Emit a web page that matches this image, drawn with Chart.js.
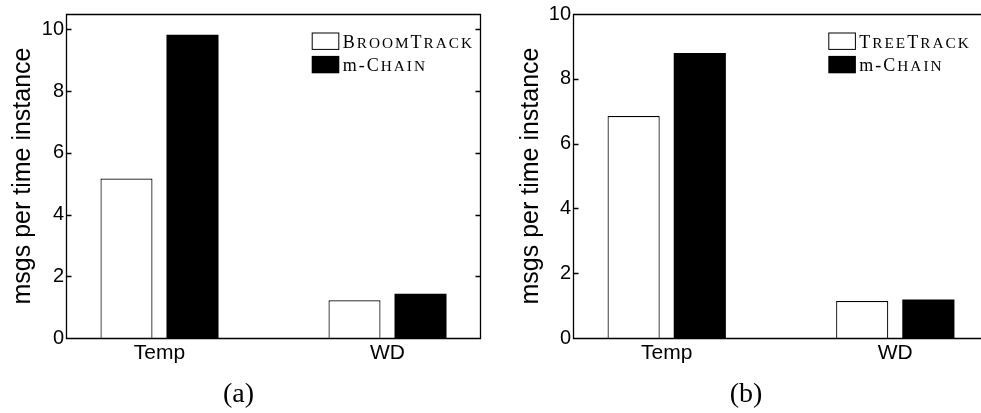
<!DOCTYPE html>
<html>
<head>
<meta charset="utf-8">
<script src="https://cdn.jsdelivr.net/npm/chart.js@4.4.1/dist/chart.umd.min.js"></script>
<style>
  html, body { margin: 0; padding: 0; background: #fff; }
  #wrap { position: relative; width: 981px; height: 413px; overflow: hidden; }
  .panel { position: absolute; top: 0; height: 413px; overflow: hidden; }
  #panelA { left: 0; width: 490px; }
  #panelB { left: 490px; width: 491px; }
</style>
</head>
<body>
<div id="wrap">
  <div class="panel" id="panelA"><canvas id="chartA" width="490" height="413"></canvas></div>
  <div class="panel" id="panelB"><canvas id="chartB" width="500" height="413"></canvas></div>
</div>
<script>
// Datos
const categories = ["Temp", "WD"]
const yTicks = [0, 2, 4, 6, 8, 10]

// (a) BroomTrack vs m-Chain
const broomTrack = [5.17, 1.22]
const mChainA = [9.83, 1.43]

// (b) TreeTrack vs m-Chain
const treeTrack = [6.85, 1.14]
const mChainB = [8.8, 1.19]

const SANS = "'Liberation Sans', Arial, Helvetica, sans-serif"
const SERIF = "'Liberation Serif', 'Times New Roman', serif"

function toPoints(values) {
  return values.map((v, i) => ({ x: i + 1, y: v }))
}

// Caja estilo MATLAB con marcas hacia dentro
const boxPlugin = {
  id: "matlabBox",
  afterDatasetsDraw(chart) {
    const { ctx, chartArea: a } = chart
    const y = chart.scales.y
    const l = Math.round(a.left) + 0.5
    const r = Math.round(a.right) - 0.5
    const t = Math.round(a.top) + 0.5
    const b = Math.round(a.bottom) + 0.5
    ctx.save()
    ctx.strokeStyle = "#000"
    ctx.lineWidth = 1.3
    ctx.beginPath()
    ctx.rect(l, t, r - l, b - t)
    y.ticks.forEach((tick) => {
      const py = Math.round(y.getPixelForValue(tick.value)) + 0.5
      ctx.moveTo(l, py)
      ctx.lineTo(l + 5, py)
      ctx.moveTo(r, py)
      ctx.lineTo(r - 5, py)
    })
    ctx.stroke()
    ctx.restore()
  },
}

// Texto en versalitas (como \textsc de LaTeX)
function drawSmallCaps(ctx, text, x, y, size, spacing) {
  const first = text.search(/[A-Z]/)
  for (let i = 0; i < text.length; i++) {
    let ch = text[i]
    let sz = size
    if (i >= first && ch !== ch.toUpperCase()) {
      ch = ch.toUpperCase()
      sz = size * 0.85
    }
    ctx.font = `${sz}px ${SERIF}`
    ctx.fillText(ch, x, y)
    x += ctx.measureText(ch).width + spacing
  }
}

const legendPlugin = {
  id: "paperLegend",
  afterDraw(chart, args, opts) {
    const { ctx, chartArea: a } = chart
    const x = a.right - opts.offset
    ctx.save()
    ctx.textBaseline = "alphabetic"
    chart.data.datasets.forEach((ds, i) => {
      const by = a.top + opts.top + i * 23.4
      ctx.fillStyle = ds.backgroundColor
      ctx.fillRect(x, by, 27.6, 17.4)
      if (ds.backgroundColor !== "#000") {
        ctx.strokeStyle = "#000"
        ctx.lineWidth = 1
        ctx.strokeRect(x + 0.5, by + 0.5, 26.6, 16.4)
      }
      ctx.fillStyle = "#000"
      drawSmallCaps(ctx, ds.label, x + 31, by + 15, 18, 2)
    })
    ctx.restore()
  },
}

const captionPlugin = {
  id: "caption",
  afterDraw(chart, args, opts) {
    const { ctx, chartArea: a } = chart
    ctx.save()
    ctx.font = `28px ${SERIF}`
    ctx.fillStyle = "#000"
    ctx.textAlign = "center"
    ctx.textBaseline = "alphabetic"
    ctx.fillText(opts.text, (a.left + a.right) / 2 + opts.shift, 402)
    ctx.restore()
  },
}

function createPanel(id, names, first, second, p) {
  const ctx = document.getElementById(id).getContext("2d")
  return new Chart(ctx, {
    type: "bar",
    data: {
      datasets: [
        {
          label: names[0],
          data: toPoints(first),
          backgroundColor: "#fff",
          borderColor: "#000",
          borderWidth: 1.2,
          barPercentage: 0.788,
          categoryPercentage: 0.579,
        },
        {
          label: names[1],
          data: toPoints(second),
          backgroundColor: "#000",
          borderColor: "#000",
          borderWidth: 0,
          barPercentage: 0.788,
          categoryPercentage: 0.579,
        },
      ],
    },
    options: {
      responsive: false,
      animation: false,
      devicePixelRatio: 1,
      layout: { padding: { top: p.top, right: p.right, bottom: 30, left: 0 } },
      plugins: {
        legend: { display: false },
        tooltip: { enabled: false },
        paperLegend: { offset: p.legendOffset, top: 18.5 },
        caption: { text: p.caption, shift: -35 },
      },
      scales: {
        x: {
          type: "linear",
          offset: false,
          min: 0.59,
          max: 2.41,
          grid: { display: false, drawTicks: false },
          border: { display: false },
          afterBuildTicks: (s) => {
            s.ticks = categories.map((c, i) => ({ value: i + 1 }))
          },
          afterFit: (s) => {
            s.height = 45
          },
          ticks: {
            callback: (v) => categories[v - 1],
            font: { family: SANS, size: 21 },
            color: "#000",
            padding: 3,
            maxRotation: 0,
            autoSkip: false,
          },
        },
        y: {
          min: 0,
          max: p.yMax,
          grid: { display: false, drawTicks: false },
          border: { display: false },
          afterBuildTicks: (s) => {
            s.ticks = yTicks.map((v) => ({ value: v }))
          },
          afterFit: (s) => {
            s.width = p.yWidth
          },
          ticks: {
            font: { family: SANS, size: 20 },
            color: "#000",
            padding: 2,
          },
          title: {
            display: true,
            text: "msgs per time instance",
            font: { family: SANS, size: 25 },
            color: "#000",
            padding: { top: p.titlePad, bottom: 0 },
          },
        },
      },
    },
    plugins: [boxPlugin, legendPlugin, captionPlugin],
  })
}

createPanel("chartA", ["BroomTrack", "m-Chain"], broomTrack, mChainA, {
  top: 11, right: 9, yWidth: 66, yMax: 10.5, titlePad: 8, legendOffset: 169.3, caption: "(a)",
})
createPanel("chartB", ["TreeTrack", "m-Chain"], treeTrack, mChainB, {
  top: 10, right: 1, yWidth: 83, yMax: 10, titlePad: 26, legendOffset: 160.7, caption: "(b)",
})
</script>
</body>
</html>
